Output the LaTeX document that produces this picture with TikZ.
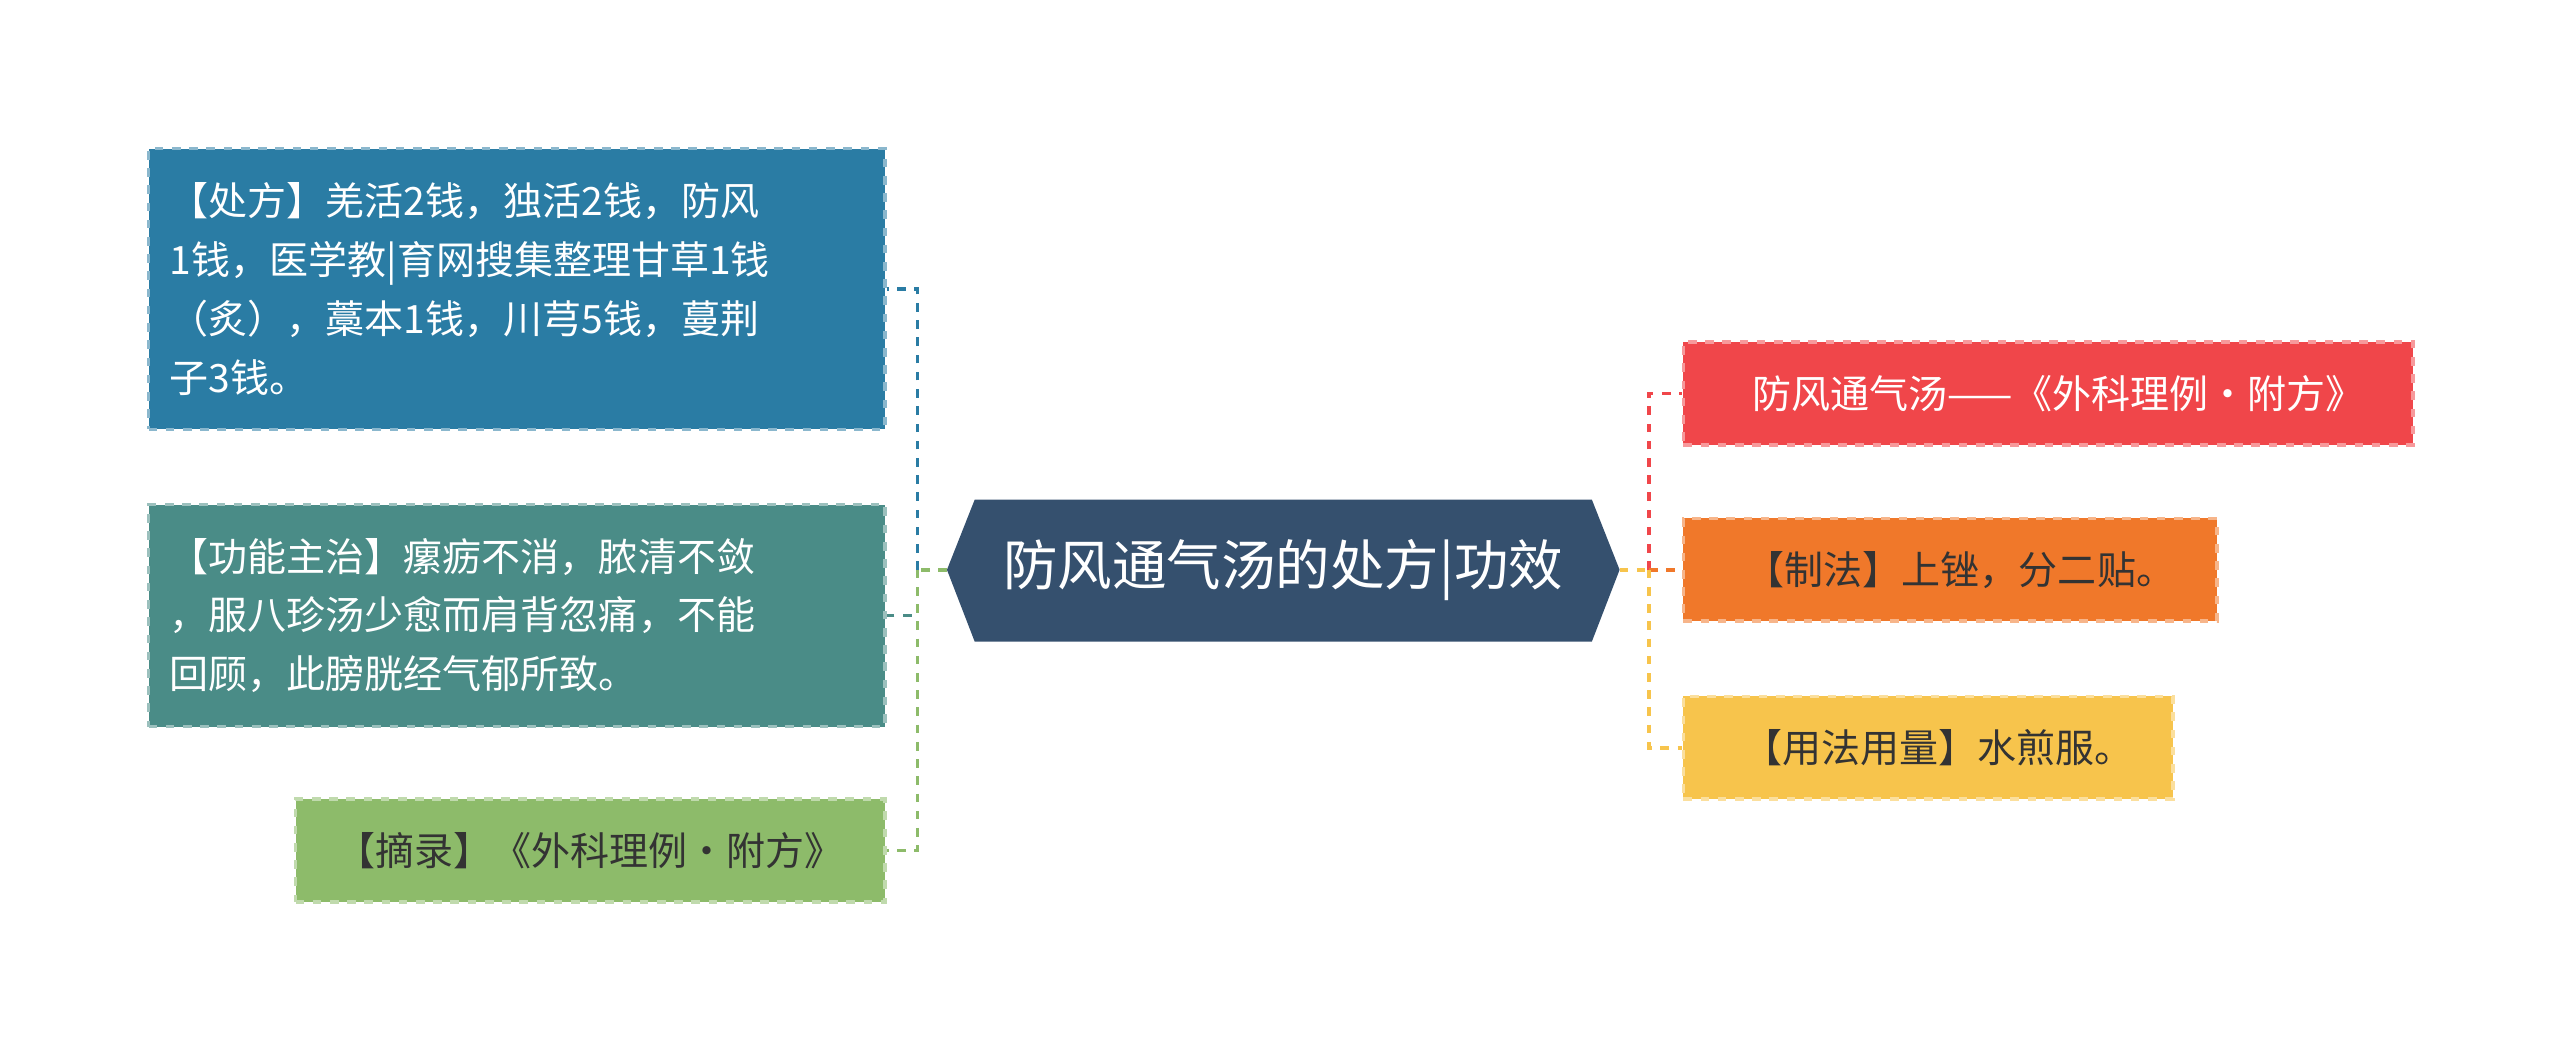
\documentclass[tikz,border=0pt]{standalone}
\usepackage{fontspec}
\newfontfamily\cjk{Noto Sans CJK SC}
\definecolor{cBlue}{HTML}{2A7CA4}
\definecolor{cTeal}{HTML}{4A8C87}
\definecolor{cGreen}{HTML}{8DBB6A}
\definecolor{cHub}{HTML}{35506E}
\definecolor{cRed}{HTML}{F0464A}
\definecolor{cOrange}{HTML}{F0782A}
\definecolor{cYellow}{HTML}{F7C44C}
\definecolor{cText}{HTML}{333333}
\tikzset{
  leaf/.style={fill=#1, draw=#1!55!white, dashed, line width=1.2pt, inner sep=0pt,
    font=\cjk\fontsize{13.6}{20.5}\selectfont, align=left},
  link/.style={draw=#1, dashed, line width=1.3pt},
}
\begin{document}
\begin{tikzpicture}[x=0.02cm,y=-0.02cm]
  \useasboundingbox (0,0) rectangle (1568,645);
  % hub
  \fill[cHub] (580,349) -- (597,306) -- (975,306) -- (992,349) -- (975,393) -- (597,393) -- cycle;
  \node[text=white, font=\cjk\fontsize{19}{22}\selectfont] (hub) at (786,349) {防风通气汤的处方|功效};
  \coordinate (hubL) at (580,349);
  \coordinate (hubR) at (992,349);
  % left leaves
  \node[leaf=cBlue, minimum width=9.02cm, minimum height=3.44cm, text width=8.5cm, text=white] (chufang) at (316.5,177)
    {【处方】羌活2钱，独活2钱，防风\\1钱，医学教|育网搜集整理甘草1钱\\（炙），藁本1钱，川芎5钱，蔓荆\\子3钱。};
  \node[leaf=cTeal, minimum width=9.02cm, minimum height=2.72cm, text width=8.5cm, text=white] (gongneng) at (316.5,377)
    {【功能主治】瘰疬不消，脓清不敛\\，服八珍汤少愈而肩背忽痛，不能\\回顾，此膀胱经气郁所致。};
  \node[leaf=cGreen, minimum width=7.22cm, minimum height=1.26cm, text=cText] (zhailu) at (361.5,521)
    {【摘录】《外科理例·附方》};
  % right leaves
  \node[leaf=cRed, minimum width=8.94cm, minimum height=1.26cm, text=white, anchor=west] (fangming) at (1030,241)
    {\hspace{0.25cm}防风通气汤——《外科理例·附方》};
  \node[leaf=cOrange, minimum width=6.54cm, minimum height=1.26cm, text=cText, anchor=west] (zhifa) at (1030,349)
    {\hspace{0.25cm}【制法】上锉，分二贴。};
  \node[leaf=cYellow, minimum width=6.0cm, minimum height=1.26cm, text=cText, anchor=west] (yongfa) at (1030,458)
    {\hspace{0.25cm}【用法用量】水煎服。};
  % connectors
  \draw[link=cGreen] (hubL) -- (562,349);
  \draw[link=cBlue] (562,349) |- (chufang.east);
  \draw[link=cTeal] (562,349) |- (gongneng.east);
  \draw[link=cGreen] (562,349) |- (zhailu.east);
  \draw[link=cYellow] (hubR) -- (1010,349);
  \draw[link=cRed] (1010,349) |- (fangming.west);
  \draw[link=cOrange] (1010,349) |- (zhifa.west);
  \draw[link=cYellow] (1010,349) |- (yongfa.west);
\end{tikzpicture}
\end{document}
